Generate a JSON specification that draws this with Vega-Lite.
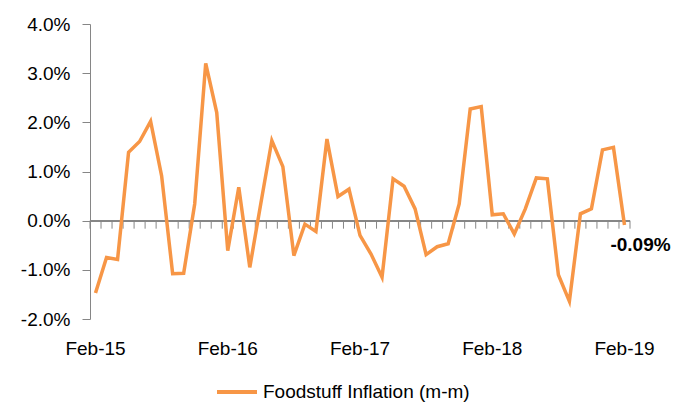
{
  "$schema": "https://vega.github.io/schema/vega-lite/v6.json",
  "width": 540,
  "height": 295,
  "autosize": {"type": "none"},
  "padding": {"left": 90, "top": 24, "right": 56, "bottom": 86},
  "background": "white",
  "config": {
    "view": {"stroke": null},
    "font": "Liberation Sans",
    "axis": {"labelFont": "Liberation Sans", "labelFontSize": 19, "labelColor": "#000000", "grid": false}
  },
  "data": {
    "values": [
      {"month": "Feb-15", "value": -1.47}, {"month": "Mar-15", "value": -0.75}, {"month": "Apr-15", "value": -0.79},
      {"month": "May-15", "value": 1.39}, {"month": "Jun-15", "value": 1.61}, {"month": "Jul-15", "value": 2.02},
      {"month": "Aug-15", "value": 0.91}, {"month": "Sep-15", "value": -1.08}, {"month": "Oct-15", "value": -1.07},
      {"month": "Nov-15", "value": 0.34}, {"month": "Dec-15", "value": 3.2}, {"month": "Jan-16", "value": 2.2},
      {"month": "Feb-16", "value": -0.61}, {"month": "Mar-16", "value": 0.68}, {"month": "Apr-16", "value": -0.95},
      {"month": "May-16", "value": 0.35}, {"month": "Jun-16", "value": 1.63}, {"month": "Jul-16", "value": 1.1},
      {"month": "Aug-16", "value": -0.71}, {"month": "Sep-16", "value": -0.07}, {"month": "Oct-16", "value": -0.22},
      {"month": "Nov-16", "value": 1.66}, {"month": "Dec-16", "value": 0.49}, {"month": "Jan-17", "value": 0.64},
      {"month": "Feb-17", "value": -0.3}, {"month": "Mar-17", "value": -0.68}, {"month": "Apr-17", "value": -1.15},
      {"month": "May-17", "value": 0.85}, {"month": "Jun-17", "value": 0.7}, {"month": "Jul-17", "value": 0.24},
      {"month": "Aug-17", "value": -0.69}, {"month": "Sep-17", "value": -0.53}, {"month": "Oct-17", "value": -0.47},
      {"month": "Nov-17", "value": 0.34}, {"month": "Dec-17", "value": 2.27}, {"month": "Jan-18", "value": 2.32},
      {"month": "Feb-18", "value": 0.12}, {"month": "Mar-18", "value": 0.14}, {"month": "Apr-18", "value": -0.27},
      {"month": "May-18", "value": 0.24}, {"month": "Jun-18", "value": 0.87}, {"month": "Jul-18", "value": 0.85},
      {"month": "Aug-18", "value": -1.1}, {"month": "Sep-18", "value": -1.64}, {"month": "Oct-18", "value": 0.14},
      {"month": "Nov-18", "value": 0.24}, {"month": "Dec-18", "value": 1.44}, {"month": "Jan-19", "value": 1.49},
      {"month": "Feb-19", "value": -0.09}
    ]
  },
  "layer": [
    {
      "mark": {"type": "rule", "color": "#868686", "strokeWidth": 1},
      "encoding": {"y": {"datum": 0, "type": "quantitative"}}
    },
    {
      "mark": {"type": "rule", "color": "#868686", "strokeWidth": 1},
      "encoding": {
        "x": {"field": "month", "type": "ordinal", "sort": null, "bandPosition": 0},
        "y": {"datum": 0, "type": "quantitative"},
        "y2": {"datum": -0.163}
      }
    },
    {
      "transform": [{"filter": "datum.month == 'Feb-19'"}],
      "mark": {"type": "rule", "color": "#868686", "strokeWidth": 1},
      "encoding": {
        "x": {"field": "month", "type": "ordinal", "sort": null, "bandPosition": 1},
        "y": {"datum": 0, "type": "quantitative"},
        "y2": {"datum": -0.163}
      }
    },
    {
      "transform": [{"calculate": "'Foodstuff Inflation (m-m)'", "as": "series"}],
      "mark": {"type": "line", "strokeWidth": 3.5, "strokeJoin": "miter", "strokeCap": "butt"},
      "encoding": {
        "x": {
          "field": "month", "type": "ordinal", "sort": null, "bandPosition": 0.5,
          "scale": {"type": "band", "paddingInner": 0, "paddingOuter": 0},
          "axis": {
            "title": null, "values": ["Feb-15", "Feb-16", "Feb-17", "Feb-18", "Feb-19"],
            "ticks": false, "domain": false, "labelPadding": 29, "labelAngle": 0,
            "labelAlign": "center", "labelBaseline": "middle", "bandPosition": 0.5
          }
        },
        "y": {
          "field": "value", "type": "quantitative",
          "scale": {"domain": [-2, 4], "nice": false, "zero": false},
          "axis": {
            "title": null, "values": [-2, -1, 0, 1, 2, 3, 4],
            "labelExpr": "(datum.value < 0 ? '-' : '') + format(abs(datum.value), '.1f') + '%'",
            "domainColor": "#868686", "tickColor": "#868686", "tickSize": 8, "labelPadding": 12
          }
        },
        "color": {
          "field": "series", "type": "nominal",
          "scale": {"range": ["#F79646"]},
          "legend": {
            "title": null, "orient": "none", "legendX": 125, "legendY": 346,
            "symbolType": "stroke", "symbolSize": 1600, "symbolStrokeWidth": 4,
            "labelFont": "Liberation Sans", "labelFontSize": 19, "labelColor": "#000000",
            "labelOffset": 4, "labelLimit": 400, "padding": 0
          }
        }
      }
    },
    {
      "transform": [
        {"filter": "datum.month == 'Feb-19'"},
        {"calculate": "datum.value + '%'", "as": "label"}
      ],
      "mark": {"type": "text", "dx": 16, "dy": 20, "fontWeight": "bold", "fontSize": 19, "font": "Liberation Sans", "color": "#000000"},
      "encoding": {
        "x": {"field": "month", "type": "ordinal", "sort": null, "bandPosition": 0.5},
        "y": {"field": "value", "type": "quantitative"},
        "text": {"field": "label"}
      }
    }
  ]
}
